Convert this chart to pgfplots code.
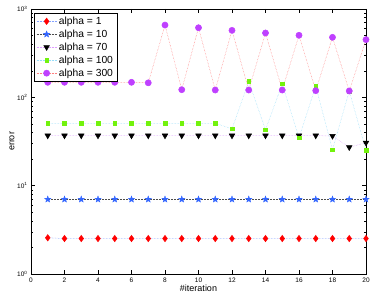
\documentclass[border=0pt]{standalone}
\usepackage{fontspec}
\setmainfont{Liberation Sans}
\usepackage{pgfplots}
\pgfplotsset{compat=1.18}
\definecolor{mred}{rgb}{1,0,0}
\definecolor{mblue}{rgb}{0.2,0.4,1}
\definecolor{mgreen}{rgb}{0.45,0.95,0.05}
\definecolor{mpurple}{rgb}{0.75,0.25,1}
\pgfdeclareplotmark{pentagram}{%
  \pgfpathmoveto{\pgfqpointpolar{90}{\pgfplotmarksize}}%
  \pgfpathlineto{\pgfqpointpolar{126}{0.42\pgfplotmarksize}}%
  \pgfpathlineto{\pgfqpointpolar{162}{\pgfplotmarksize}}%
  \pgfpathlineto{\pgfqpointpolar{198}{0.42\pgfplotmarksize}}%
  \pgfpathlineto{\pgfqpointpolar{234}{\pgfplotmarksize}}%
  \pgfpathlineto{\pgfqpointpolar{270}{0.42\pgfplotmarksize}}%
  \pgfpathlineto{\pgfqpointpolar{306}{\pgfplotmarksize}}%
  \pgfpathlineto{\pgfqpointpolar{342}{0.42\pgfplotmarksize}}%
  \pgfpathlineto{\pgfqpointpolar{18}{\pgfplotmarksize}}%
  \pgfpathlineto{\pgfqpointpolar{54}{0.42\pgfplotmarksize}}%
  \pgfpathclose
  \pgfusepathqfillstroke}
\begin{document}
\begin{tikzpicture}[x=1pt,y=1pt]
\begin{semilogyaxis}[
  scale only axis,
  width=335pt, height=265pt,
  at={(31pt,25pt)}, anchor=south west,
  xmin=0, xmax=20, ymin=1, ymax=1000,
  xtick={0,2,...,20},
  ytick={1,10,100,1000},
  yticklabels={10\textsuperscript{0},10\textsuperscript{1},10\textsuperscript{2},10\textsuperscript{3}},
  /pgf/number format/assume math mode=true,
  ticklabel style={font=\fontsize{6.5}{7}\selectfont},
  xlabel={\#iteration}, ylabel={error},
  label style={font=\fontsize{9}{10}\selectfont},
  xlabel style={yshift=4pt},
  ylabel style={yshift=-4pt},
  major tick length=4pt, minor tick length=2pt,
  axis line style={line width=0.6pt},
  tick style={black, line width=0.4pt},
  legend style={at={(0.009,0.985)}, anchor=north west, draw=black, line width=0.7pt,
    font=\fontsize{10.3}{12}\selectfont, inner xsep=2pt, inner ysep=1.5pt, row sep=0pt},
  legend image code/.code={%
    \draw[mark repeat=2,mark phase=2] plot coordinates {(0pt,0pt)(10pt,0pt)(20pt,0pt)};},
  legend cell align=left,
  every axis plot/.append style={densely dotted, line width=0.5pt},
]
\addplot[color=mblue!60, mark=diamond*, mark size=3.2pt, mark options={solid, fill=mred, draw=mred}]
 coordinates {(1,2.57)(2,2.52)(3,2.52)(4,2.52)(5,2.52)(6,2.52)(7,2.52)(8,2.52)(9,2.52)(10,2.52)(11,2.52)(12,2.52)(13,2.52)(14,2.52)(15,2.52)(16,2.52)(17,2.52)(18,2.52)(19,2.52)(20,2.52)};
\addlegendentry{alpha = 1}
\addplot[color=black!70, mark=pentagram, mark size=3.4pt, mark options={solid, draw=mblue, fill=mblue, line width=0.3pt}]
 coordinates {(1,7.0)(2,7.0)(3,7.0)(4,7.0)(5,7.0)(6,7.0)(7,7.0)(8,7.0)(9,7.0)(10,7.0)(11,7.0)(12,7.0)(13,7.0)(14,7.0)(15,7.0)(16,7.0)(17,7.0)(18,7.0)(19,7.0)(20,7.0)};
\addlegendentry{alpha = 10}
\addplot[color=mpurple!50, mark=triangle*, mark size=3.2pt, mark options={solid, rotate=180, fill=black, draw=black}]
 coordinates {(1,36.9)(2,36.9)(3,36.9)(4,36.9)(5,36.9)(6,36.9)(7,36.9)(8,36.9)(9,36.9)(10,36.9)(11,36.9)(12,36.9)(13,36.9)(14,36.9)(15,36.9)(16,36.9)(17,36.9)(18,36.5)(19,27.2)(20,30.6)};
\addlegendentry{alpha = 70}
\addplot[color=cyan!40, mark=square*, mark size=1.8pt, mark options={solid, fill=mgreen, draw=mgreen}]
 coordinates {(1,50.8)(2,50.8)(3,50.8)(4,50.8)(5,50.8)(6,50.8)(7,50.8)(8,50.8)(9,50.8)(10,50.8)(11,50.8)(12,44)(13,151)(14,43)(15,142)(16,34.8)(17,134)(18,25.5)(19,118)(20,25)};
\addlegendentry{alpha = 100}
\addplot[color=mred!50, mark=*, mark size=3.1pt, mark options={solid, fill=mpurple, draw=mpurple}]
 coordinates {(1,148)(2,148)(3,148)(4,148)(5,148)(6,148)(7,146)(8,658)(9,122)(10,614)(11,121)(12,573)(13,121)(14,535)(15,121)(16,504)(17,119)(18,478)(19,118)(20,450)};
\addlegendentry{alpha = 300}
\end{semilogyaxis}
\path[use as bounding box] (0,0) rectangle (374,299);
\end{tikzpicture}
\end{document}
